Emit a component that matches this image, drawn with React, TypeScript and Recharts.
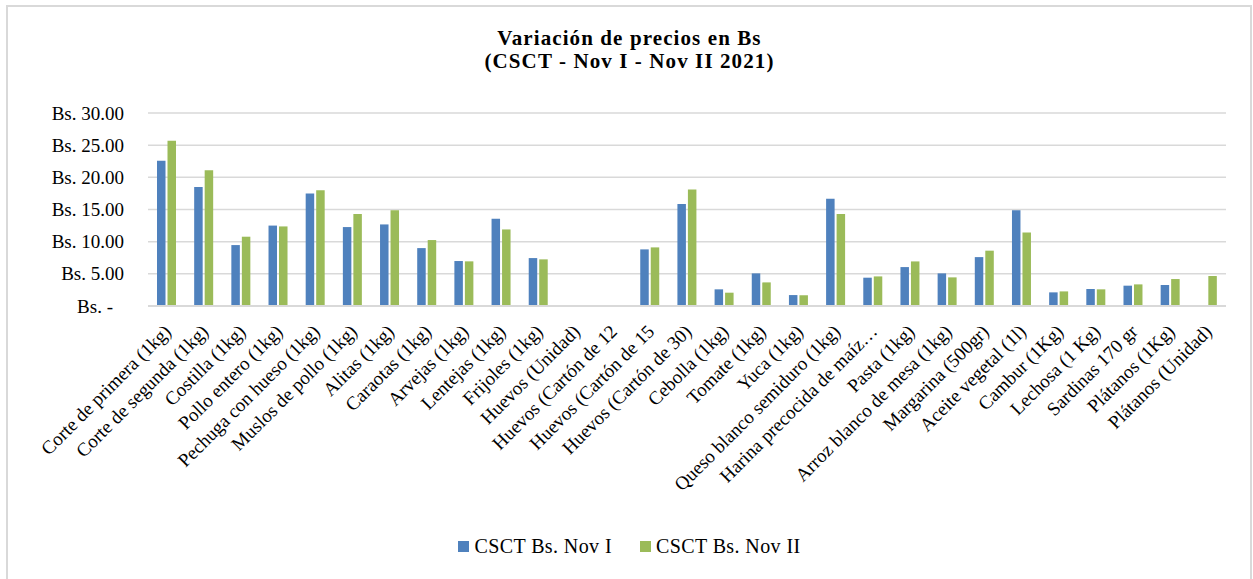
import React from 'react';
import { BarChart, Bar, XAxis, YAxis, CartesianGrid, Legend } from 'recharts';

const FONT = "'Liberation Serif', 'Times New Roman', serif";

const categories = [
  'Corte de primera (1kg)',
  'Corte de segunda (1kg)',
  'Costilla (1kg)',
  'Pollo entero (1kg)',
  'Pechuga con hueso (1kg)',
  'Muslos de pollo (1kg)',
  'Alitas (1kg)',
  'Caraotas (1kg)',
  'Arvejas (1kg)',
  'Lentejas (1kg)',
  'Frijoles (1kg)',
  'Huevos (Unidad)',
  'Huevos (Cartón de 12',
  'Huevos (Cartón de 15',
  'Huevos (Cartón de 30)',
  'Cebolla (1kg)',
  'Tomate (1kg)',
  'Yuca (1kg)',
  'Queso blanco semiduro (1kg)',
  'Harina precocida de maíz…',
  'Pasta (1kg)',
  'Arroz blanco de mesa (1kg)',
  'Margarina (500gr)',
  'Aceite vegetal (1l)',
  'Cambur (1Kg)',
  'Lechosa (1 Kg)',
  'Sardinas 170 gr',
  'Plátanos (1Kg)',
  'Plátanos (Unidad)',
];

const novI = [
  22.56, 18.48, 9.47, 12.5, 17.5, 12.27, 12.68, 9.0, 6.99, 13.56, 7.45,
  null, null, 8.8, 15.84, 2.59, 5.07, 1.7, 16.67, 4.4, 6.05, 5.07,
  7.6, 14.9, 2.12, 2.64, 3.16, 3.26, null,
];

const novII = [
  25.67, 21.1, 10.77, 12.37, 18.0, 14.29, 14.9, 10.25, 6.94, 11.9, 7.25,
  null, null, 9.11, 18.1, 2.07, 3.67, 1.67, 14.29, 4.6, 6.93, 4.45,
  8.6, 11.43, 2.27, 2.59, 3.36, 4.19, 4.66,
];

const yTicks = [0, 5, 10, 15, 20, 25, 30];
const seriesNames = ['CSCT Bs. Nov I', 'CSCT Bs. Nov II'];
const seriesColors = ['#4F81BD', '#9BBB59'];
const titleLines = ['Variación de precios en Bs', '(CSCT - Nov I - Nov II 2021)'];

const data = categories.map((name, i) => ({ name, novI: novI[i], novII: novII[i] }));

const XTick = (props: any) => {
  const { x, y, payload } = props;
  return (
    <g transform={`translate(${x - 4},${y + 17})`}>
      <text transform="rotate(-45)" textAnchor="end" dy="0.72em" fontSize={19} fontFamily={FONT} fill="#000">
        {payload.value}
      </text>
    </g>
  );
};

const YTick = (props: any) => {
  const { x, y, payload } = props;
  const v = payload.value;
  const label = v === 0 ? 'Bs. -' : `Bs. ${v.toFixed(2)}`;
  return (
    <text x={v === 0 ? x - 11 : x} y={y} dy="0.35em" textAnchor="end" fontSize={19} fontFamily={FONT} fill="#000">
      {label}
    </text>
  );
};

const LegendContent = () => (
  <div style={{ display: 'flex', justifyContent: 'center', fontFamily: FONT, fontSize: 20, letterSpacing: 0.4, color: '#000' }}>
    {seriesNames.map((n, i) => (
      <div key={n} style={{ display: 'flex', alignItems: 'center', marginRight: i === 0 ? 28 : 0 }}>
        <span style={{ width: 11, height: 11, background: seriesColors[i], display: 'inline-block', marginRight: 5 }} />
        <span>{n}</span>
      </div>
    ))}
  </div>
);

export default function App() {
  return (
    <div style={{ position: 'absolute', left: 0, top: 0, width: 1253, height: 579, background: '#fff', overflow: 'hidden' }}>
      <div
        style={{
          position: 'absolute',
          left: 6,
          top: 5,
          width: 1246,
          height: 620,
          border: '2px solid #d9d9d9',
          boxSizing: 'border-box',
        }}
      />
      {titleLines.map((t, i) => (
        <div
          key={t}
          style={{
            position: 'absolute',
            left: 7,
            top: 28 + i * 23,
            width: 1245,
            height: 20,
            textAlign: 'center',
            fontFamily: FONT,
            fontWeight: 'bold',
            fontSize: 21,
            letterSpacing: 1.1,
            lineHeight: '20px',
            color: '#000',
          }}
        >
          {t}
        </div>
      ))}
      <div style={{ position: 'absolute', left: 0, top: 0 }}>
        <BarChart
          width={1253}
          height={579}
          data={data}
          margin={{ top: 113, right: 27, bottom: 73, left: 0 }}
          barSize={8.5}
          barGap={2}
        >
          <CartesianGrid vertical={false} stroke="#d9d9d9" strokeWidth={1.5} />
          <XAxis
            dataKey="name"
            interval={0}
            height={200}
            tickLine={false}
            tickSize={0}
            tickMargin={0}
            axisLine={{ stroke: '#d9d9d9', strokeWidth: 2 }}
            tick={<XTick />}
          />
          <YAxis
            width={148}
            domain={[0, 30]}
            ticks={yTicks}
            axisLine={false}
            tickLine={false}
            tickSize={0}
            tickMargin={24}
            tick={<YTick />}
          />
          <Legend
            verticalAlign="middle"
            layout="horizontal"
            align="center"
            content={<LegendContent />}
            wrapperStyle={{ top: 535, left: 7, width: 1245 }}
          />
          <Bar dataKey="novI" name={seriesNames[0]} fill={seriesColors[0]} isAnimationActive={false} />
          <Bar dataKey="novII" name={seriesNames[1]} fill={seriesColors[1]} isAnimationActive={false} />
        </BarChart>
      </div>
    </div>
  );
}
